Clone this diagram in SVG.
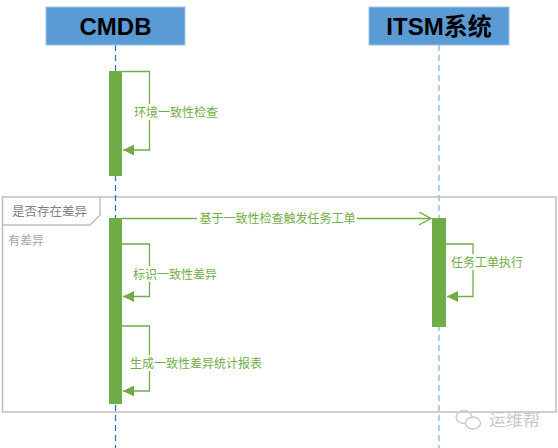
<svg xmlns="http://www.w3.org/2000/svg" width="558" height="448" viewBox="0 0 558 448">
<defs>
<style>
.hdr{fill:#5B9BD5;stroke:#9DC3E6;stroke-width:1}
.hdrt{font-family:"Liberation Sans","Noto Sans CJK SC",sans-serif;font-weight:bold;font-size:24px;fill:#000;text-anchor:middle}
.life1{stroke:#2E75B6;stroke-width:1.3;stroke-dasharray:6 4;fill:none}
.life2{stroke:#9DC3E6;stroke-width:1.6;stroke-dasharray:6 4;fill:none}
.bar{fill:#70AD47}
.msg{stroke:#70AD47;stroke-width:1.3;fill:none}
.lbl{font-family:"Noto Sans CJK SC",sans-serif;font-size:12px;fill:#70AD47}
.bg{fill:#fff}
.frame{fill:none;stroke:#BFBFBF;stroke-width:1.5}
</style>
<marker id="fill" markerWidth="12" markerHeight="12" refX="11" refY="5.5" orient="auto" markerUnits="userSpaceOnUse">
<path d="M0,0 L11,5.5 L0,11 Z" fill="#70AD47"/>
</marker>
<marker id="open" markerWidth="14" markerHeight="14" refX="12" refY="6.5" orient="auto" markerUnits="userSpaceOnUse">
<path d="M0,0 L12,6.5 L0,13" fill="none" stroke="#70AD47" stroke-width="1.3"/>
</marker>
</defs>
<rect width="558" height="448" fill="#fff"/>

<g id="frame">
<rect class="frame" x="2.5" y="197" width="553.5" height="215"/>
<path class="frame" d="M2.5,225 L90,225 L100,215 L100,197"/>
<text x="12" y="216" font-family="Noto Sans CJK SC,sans-serif" font-size="12.5" fill="#7F7F7F">是否存在差异</text>
<text x="8" y="245" font-family="Noto Sans CJK SC,sans-serif" font-size="12" fill="#A6A6A6">有差异</text>
</g>

<g id="lifelines">
<line class="life1" x1="115.5" y1="45" x2="115.5" y2="448"/>
<line class="life2" x1="439" y1="45" x2="439" y2="448"/>
</g>

<g id="cmdb">
<rect class="hdr" x="46" y="7" width="139" height="38"/>
<text class="hdrt" x="115.5" y="35">CMDB</text>
</g>

<g id="itsm">
<rect class="hdr" x="369" y="7" width="140" height="38"/>
<text class="hdrt" x="439" y="35">ITSM系统</text>
</g>

<g id="activations">
<rect class="bar" x="109" y="71" width="13" height="105"/>
<rect class="bar" x="109" y="218" width="13" height="186"/>
<rect class="bar" x="432" y="218" width="14" height="109"/>
</g>

<g id="connectors">
<path class="msg" d="M122,71.5 H149.5 V150 H123" marker-end="url(#fill)"/>
<rect class="bg" x="133" y="104" width="86" height="16"/>
<text class="lbl" x="134" y="116.5">环境一致性检查</text>

<path class="msg" d="M122,218.5 H431" marker-end="url(#open)"/>
<rect class="bg" x="197" y="211" width="160" height="15"/>
<text class="lbl" x="277.5" y="223" text-anchor="middle">基于一致性检查触发任务工单</text>

<path class="msg" d="M122,244 H149.5 V296.5 H123" marker-end="url(#fill)"/>
<rect class="bg" x="132" y="266" width="86" height="16"/>
<text class="lbl" x="133" y="278.5">标识一致性差异</text>

<path class="msg" d="M122,326 H149.5 V391 H123" marker-end="url(#fill)"/>
<rect class="bg" x="129" y="355" width="136" height="16"/>
<text class="lbl" x="130" y="367.5">生成一致性差异统计报表</text>

<path class="msg" d="M446,244 H473 V296.5 H447" marker-end="url(#fill)"/>
<rect class="bg" x="450" y="254" width="73" height="16"/>
<text class="lbl" x="451" y="266.5">任务工单执行</text>
</g>

<g id="watermark" fill="none" stroke="#C8C8C8" stroke-width="1.3">
<ellipse cx="464" cy="417" rx="8" ry="6.5"/>
<ellipse cx="473" cy="423" rx="7.5" ry="6" fill="#fff"/>
<text x="489" y="425.5" font-family="Noto Sans CJK SC,sans-serif" font-size="17" fill="#C8C8C8" stroke="none">运维帮</text>
</g>
</svg>
